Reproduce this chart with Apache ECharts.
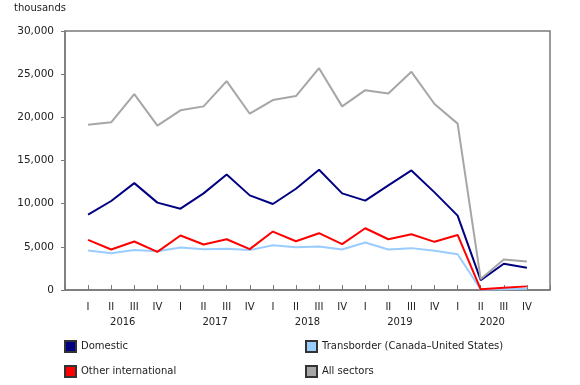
<!DOCTYPE html>
<html>
<head>
<meta charset="utf-8">
<script src="https://cdn.jsdelivr.net/npm/echarts@6/dist/echarts.min.js"></script>
<style>
  html, body { margin: 0; padding: 0; background: #fff; }
  #chart { width: 580px; height: 385px; }
</style>
</head>
<body>
<div id="chart"></div>
<script>
// quarters 2016 I .. 2020 IV
var quarters = ['I', 'II', 'III', 'IV', 'I', 'II', 'III', 'IV', 'I', 'II', 'III', 'IV',
  'I', 'II', 'III', 'IV', 'I', 'II', 'III', 'IV']
var years = ['2016', '2017', '2018', '2019', '2020']

var domestic = [8730, 10310, 12380, 10120, 9420, 11190, 13380, 10960, 9960, 11730, 13920, 11190,
  10350, 12120, 13850, 11310, 8620, 1150, 3040, 2580]
var transborder = [4580, 4270, 4620, 4500, 4920, 4730, 4770, 4620, 5190, 4960, 5040, 4690,
  5500, 4690, 4850, 4540, 4150, 50, 100, 150]
var otherIntl = [5810, 4690, 5620, 4420, 6310, 5270, 5880, 4730, 6770, 5650, 6580, 5310,
  7150, 5880, 6460, 5580, 6380, 80, 270, 420]
var allSectors = [19150, 19420, 22690, 19040, 20810, 21270, 24190, 20420, 22000, 22460, 25690, 21270,
  23150, 22770, 25270, 21540, 19270, 1270, 3540, 3310]

var yTicks = { min: 0, max: 30000, interval: 5000 }

// pad one empty slot at each end so points sit one step in from the frame
var cats = [''].concat(quarters, [''])
function pad(arr) { return [null].concat(arr, [null]) }

// half-step axis for the year labels (centred between II and III)
var yearCats = []
for (var i = 0; i <= cats.length * 2 - 2; i++) yearCats.push('')
years.forEach(function (y, k) { yearCats[2 * (1 + 4 * k + 1.5)] = y })

var font = 'DejaVu Sans'
var frame = '#7a7a7a'

var chart = echarts.init(document.getElementById('chart'))

function line(name, data, color) {
  return {
    name: name,
    type: 'line',
    data: pad(data),
    symbol: 'none',
    connectNulls: false,
    lineStyle: { width: 2, color: color },
    itemStyle: { color: color, borderColor: '#333', borderWidth: 1 },
    emphasis: { disabled: true }
  }
}

function legendItem(name, left, top) {
  return {
    data: [name],
    left: left,
    top: top,
    padding: 0,
    itemWidth: 11,
    itemHeight: 11,
    itemGap: 4,
    icon: 'rect',
    selectedMode: false,
    textStyle: { fontSize: 10, color: '#222', fontFamily: font }
  }
}

chart.setOption({
  animation: false,
  textStyle: { fontFamily: font },
  title: {
    text: 'thousands',
    left: 9,
    top: -2,
    textStyle: { fontSize: 10, fontWeight: 'normal', color: '#222', fontFamily: font }
  },
  grid: {
    left: 65,
    right: 30,
    top: 31,
    bottom: 95,
    show: true,
    borderColor: frame,
    borderWidth: 1.5
  },
  legend: [
    legendItem('Domestic', 64, 340),
    legendItem('Other international', 64, 365),
    legendItem('Transborder (Canada\u2013United States)', 305, 340),
    legendItem('All sectors', 305, 365)
  ],
  xAxis: [
    {
      type: 'category',
      data: cats,
      boundaryGap: false,
      axisLine: { onZero: false, lineStyle: { color: frame, width: 1.5 } },
      axisTick: { inside: true, length: 5, interval: 0, lineStyle: { color: frame, width: 1 } },
      axisLabel: { interval: 0, margin: 12, fontSize: 10, color: '#222', fontFamily: font },
      splitLine: { show: false }
    },
    {
      type: 'category',
      data: yearCats,
      boundaryGap: false,
      position: 'bottom',
      axisLine: { show: false },
      axisTick: { show: false },
      axisLabel: { interval: 0, margin: 27, fontSize: 10, color: '#222', fontFamily: font },
      splitLine: { show: false }
    }
  ],
  yAxis: {
    type: 'value',
    min: yTicks.min,
    max: yTicks.max,
    interval: yTicks.interval,
    axisLine: { show: true, lineStyle: { color: frame, width: 1.5 } },
    axisTick: { show: true, length: 4, lineStyle: { color: frame, width: 1 } },
    axisLabel: {
      margin: 11,
      fontSize: 10.5,
      color: '#222',
      fontFamily: font,
      formatter: function (v) { return v.toLocaleString('en-US') }
    },
    splitLine: { show: false }
  },
  series: [
    line('Transborder (Canada\u2013United States)', transborder, '#99ccff'),
    line('Other international', otherIntl, '#ff0000'),
    line('Domestic', domestic, '#000080'),
    line('All sectors', allSectors, '#a6a6a6')
  ]
})
</script>
</body>
</html>
